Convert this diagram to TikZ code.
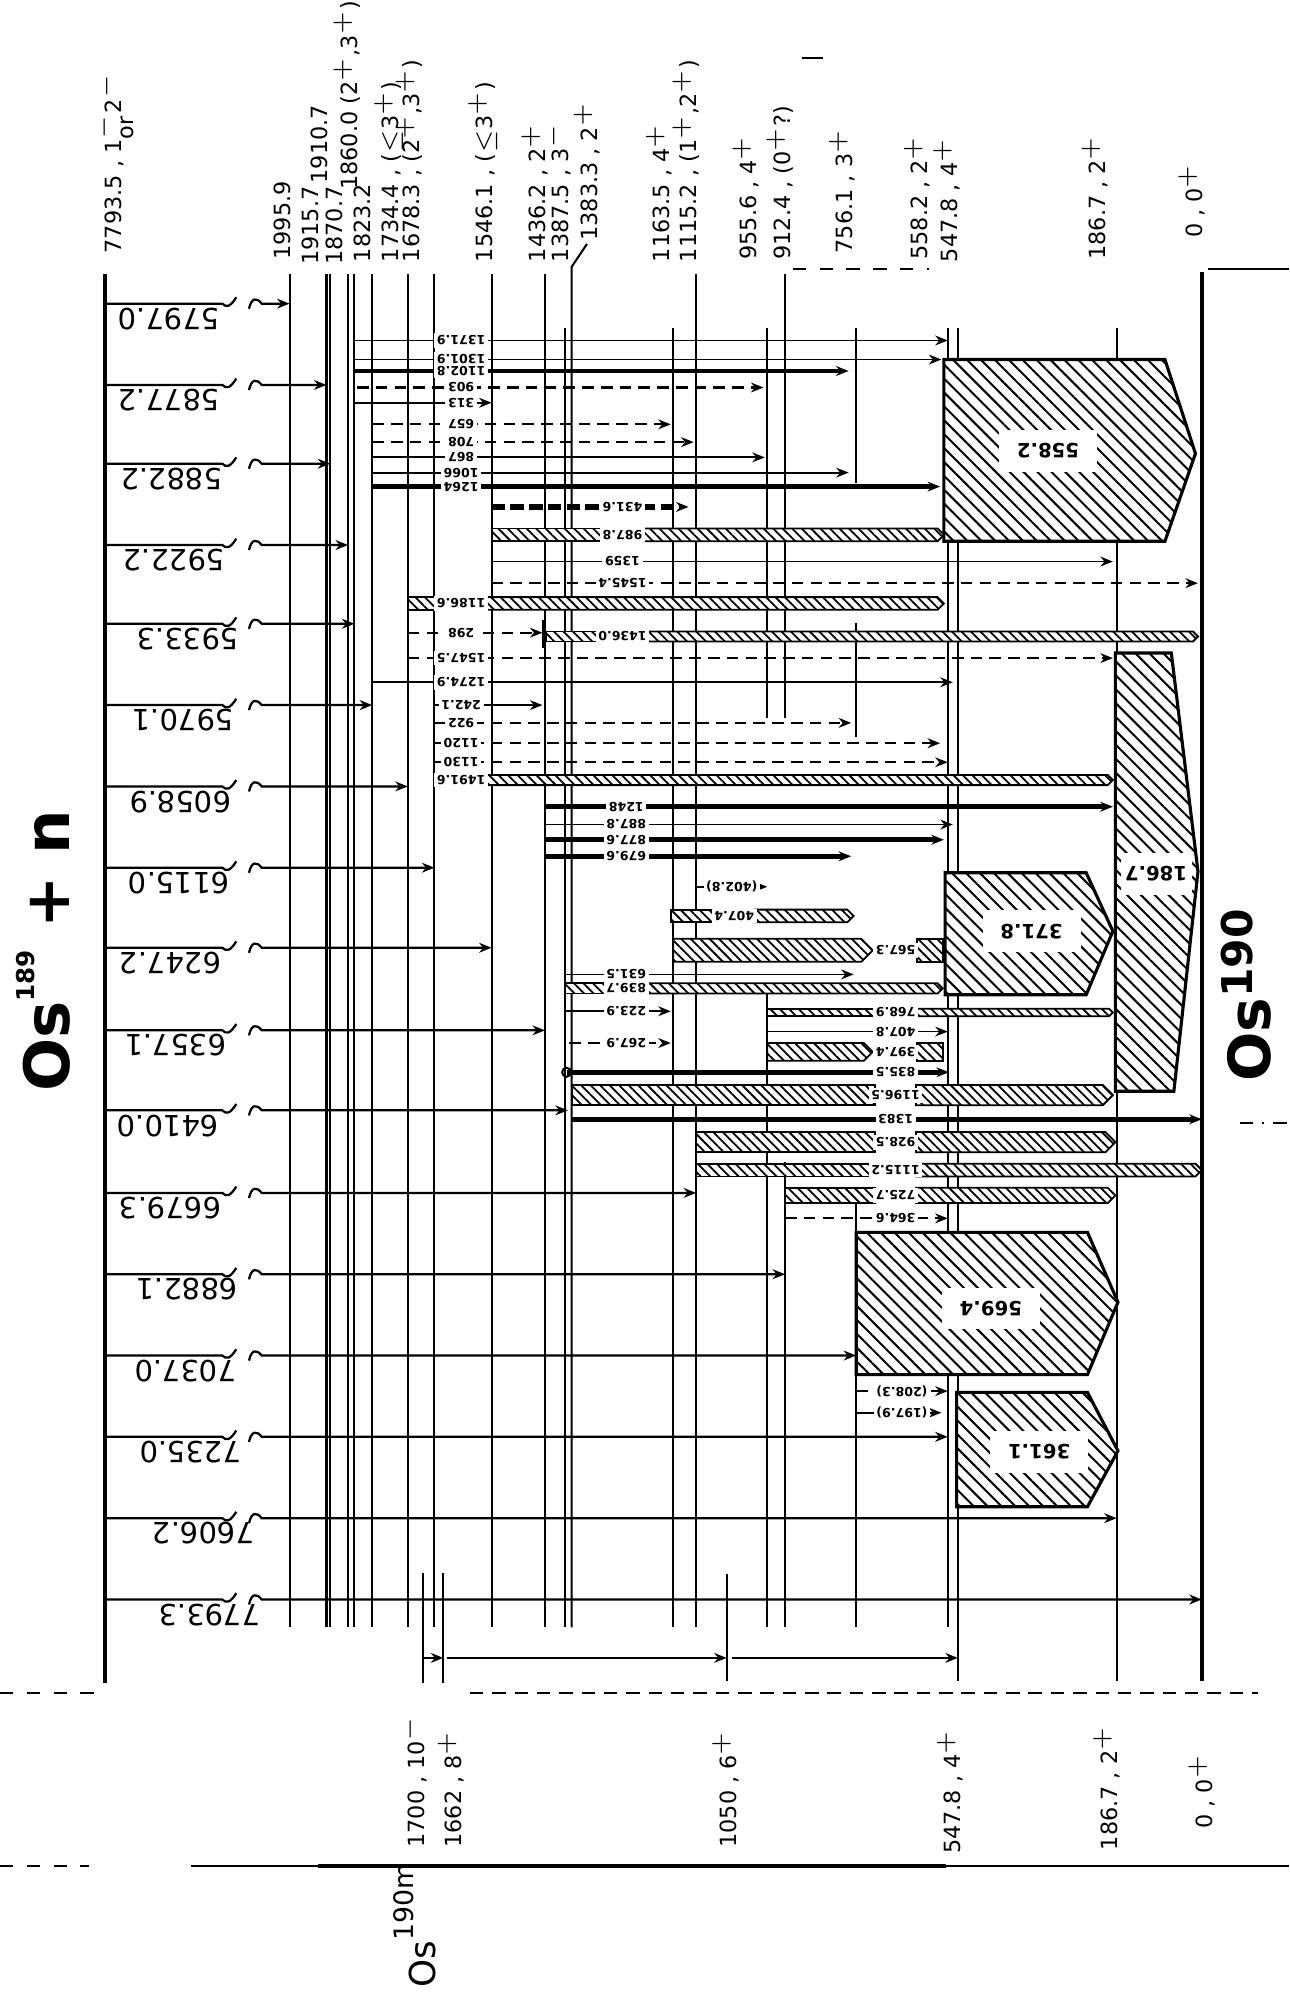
\documentclass[tikz,border=0pt]{standalone}
\usepackage{fontspec}
\setmainfont{DejaVu Sans}
\usetikzlibrary{arrows.meta,patterns.meta}

\tikzset{
  lvl/.style={line width=0.45pt},
  axis/.style={line width=0.9pt},
  capt/.style={line width=0.5pt},
  gtip/.style={-{Stealth[length=2.8pt,width=2.2pt]}},
  gam/.style={line width=0.4pt,gtip},
  gamthick/.style={line width=1.1pt,gtip},
  gamdash/.style={line width=0.45pt,dash pattern=on 2.6pt off 1.6pt,gtip},
  gamheavy/.style={line width=1.3pt,dash pattern=on 3pt off 1.2pt,gtip},
  hatchbar/.style={line width=0.4pt,preaction={fill=white},
    pattern={Lines[angle=-45,distance=1.5pt,line width=0.4pt]}},
  hatchbig/.style={line width=0.7pt,preaction={fill=white},
    pattern={Lines[angle=-45,distance=2.2pt,line width=0.45pt]}},
  glab/.style={rotate=180,fill=white,inner sep=0.6pt,font=\bfseries\fontsize{2.8}{3}\selectfont},
  biglab/.style={rotate=180,fill=white,inner xsep=4pt,inner ysep=3pt,font=\bfseries\fontsize{4.4}{5}\selectfont},
  caplab/.style={rotate=180,inner sep=0pt,font=\fontsize{6.5}{7}\selectfont},
  toplab/.style={rotate=90,anchor=west,inner sep=0pt,font=\fontsize{5}{6}\selectfont},
  isolab/.style={rotate=90,anchor=base west,inner sep=0pt,font=\bfseries\fontsize{13}{14}\selectfont}
}

% hatched gamma bar: y, x1, x2, half height, label, label x, name
\newcommand{\gbar}[7]{%
  \draw[hatchbar] (#2,#1-#4) rectangle (#6-16,#1+#4);
  \draw[hatchbar] (#6+16,#1-#4) -- (#3-#4,#1-#4) -- (#3,#1) -- (#3-#4,#1+#4) -- (#6+16,#1+#4) -- cycle;
  \node[glab] (#7) at (#6,#1) {#5};
}

\begin{document}
\begin{tikzpicture}[x=0.01cm,y=-0.01cm]
  \useasboundingbox (0,0) rectangle (1015,1568);

  % levels of Os190
  \draw[axis] (83,216) -- (83,1325);
  \draw[axis] (946,214) -- (946,1323);
  \foreach \x in {228,257,260,274,279,293,321,342,387,429,548}
    \draw[lvl] (\x,216) -- (\x,1281);
  \foreach \x in {445,530,746}
    \draw[lvl] (\x,258) -- (\x,1281);
  \draw[lvl] (462,192) -- (450,210) -- (450,1281);
  \draw[lvl] (604,258) -- (604,565) (604,780) -- (604,1281);
  \draw[lvl] (618,216) -- (618,565) (618,915) -- (618,1281);
  \draw[lvl] (674,258) -- (674,380) (674,490) -- (674,580) (674,940) -- (674,1281);
  \draw[lvl] (754,258) -- (754,1323);
  \draw[lvl] (879,258) -- (879,1323);
  \foreach \x in {333,349}
    \draw[lvl] (\x,1238) -- (\x,1325);
  \draw[lvl] (572,1239) -- (572,1323);

  % primary gammas from the capture state
  \foreach \y/\xe/\lx/\lab [count=\i] in {239/228/133/5797.0, 303/257/133/5877.2,
      365/260/135/5882.2, 429/274/137/5922.2, 491/279/148/5933.3, 555/293/144/5970.1,
      619/321/142/6058.9, 683/342/141/6115.0, 746/387/134/6247.2, 811/429/138/6357.1,
      874/447/132/6410.0, 939/548/134/6679.3, 1003/618/147/6882.1, 1067/674/146/7037.0,
      1131/746/150/7235.0, 1195/879/160/7606.2, 1259/946/165/7793.3} {
    \draw[capt] (83,\y) -- (175,\y) .. controls (178,\y+3) and (181,\y+3) .. (186,\y-5);
    \draw[capt,gtip] (196,\y+4) .. controls (198,\y-5) and (202,\y-5) .. (206,\y) -- (\xe,\y);
    \node[caplab] (cap\i) at (\lx,\y+12) {\lab};
  }

  % secondary gammas
  \foreach \y/\xa/\xb/\lx/\lab in {268/279/746/363/1371.9, 283/279/741/363/1301.9,
      317/279/387/363/313, 360/293/602/363/867, 372/293/668/363/1066,
      442/387/876/490/1359, 537/293/750/363/1274.9, 555/342/427/363/242.1,
      649/429/750/493/887.8, 767/445/672/493/631.5, 796/445/528/493/223.9,
      812/604/746/705/407.8, 1112/674/741/710/{(197.9)}} {
    \draw[gam] (\xa,\y) -- (\xb,\y);
    \node[glab] (g\y) at (\lx,\y) {\lab};
  }
  \foreach \y/\xa/\xb/\lx/\lab in {292/279/668/363/1102.8, 383/293/740/363/1264,
      635/429/876/493/1248, 661/429/743/493/877.6, 674/429/670/493/679.6,
      844/446/747/705/835.5, 881/450/946/705/1383} {
    \draw[gamthick] (\xa,\y) -- (\xb,\y);
    \node[glab] (g\y) at (\lx,\y) {\lab};
  }
  \foreach \y/\xa/\xb/\lx/\lab in {305/281/601/363/903, 334/293/528/363/657,
      348/293/546/363/708, 459/387/943/490/1545.4, 498/321/427/363/298,
      518/321/876/363/1547.5, 569/342/670/363/922, 585/342/740/363/1120,
      600/342/746/363/1130, 698/548/604/576/{(402.8)}, 821/448/528/493/267.9,
      959/618/746/705/364.6, 1095/674/746/710/{(208.3)}} {
    \draw[gamdash] (\xa,\y) -- (\xb,\y);
    \node[glab] (g\y) at (\lx,\y) {\lab};
  }
  \draw[gamheavy] (387,399) -- (542,399);
  \node[glab] (g399) at (490,399) {431.6};
  \draw[line width=1pt] (428,488) -- (428,510);
  \draw[lvl] (446,844) circle[radius=1pt];

  % hatched bars
  \gbar{421}{387}{743}{5}{987.8}{490}{b421}
  \gbar{475}{321}{743}{5}{1186.6}{363}{b475}
  \gbar{501}{430}{943}{4}{1436.0}{490}{b501}
  \gbar{614}{342}{876}{4}{1491.6}{363}{b614}
  \gbar{721}{528}{672}{5}{407.4}{578}{b721}
  \gbar{778}{445}{742}{4}{839.7}{493}{b778}
  \gbar{797}{604}{876}{3}{768.9}{705}{b797}
  \gbar{862}{450}{876}{8}{1196.5}{705}{b862}
  \gbar{899}{548}{878}{8}{928.5}{705}{b899}
  \gbar{921}{548}{946}{5}{1115.2}{705}{b921}
  \gbar{941}{618}{878}{6}{725.7}{705}{b941}
  \draw[hatchbar] (530,739) -- (678,739) -- (687,748) -- (678,757) -- (530,757) -- cycle;
  \draw[hatchbar] (722,739) rectangle (742,757);
  \node[glab] (b748) at (705,748) {567.3};
  \draw[hatchbar] (604,821) -- (680,821) -- (687,828) -- (680,835) -- (604,835) -- cycle;
  \draw[hatchbar] (722,821) rectangle (742,835);
  \node[glab] (b828) at (705,828) {397.4};

  % strong transitions
  \draw[hatchbig] (743,283) -- (917,283) -- (941,357) -- (917,426) -- (743,426) -- cycle;
  \node[biglab] (s558) at (825,355) {558.2};
  \draw[hatchbig] (878,514) -- (922,514) -- (943,686) -- (924,859) -- (878,859) -- cycle;
  \node[biglab,inner xsep=1pt] (s186) at (910,688) {186.7};
  \draw[hatchbig] (744,687) -- (855,687) -- (876,733) -- (855,783) -- (744,783) -- cycle;
  \node[biglab] (s371) at (812,733) {371.8};
  \draw[hatchbig] (674,970) -- (856,970) -- (880,1025) -- (856,1082) -- (674,1082) -- cycle;
  \node[biglab] (s569) at (780,1030) {569.4};
  \draw[hatchbig] (753,1096) -- (856,1096) -- (880,1142) -- (856,1186) -- (753,1186) -- cycle;
  \node[biglab] (s361) at (818,1143) {361.1};

  % isomer cascade
  \draw[gam] (333,1305) -- (349,1305);
  \draw[gam] (352,1305) -- (572,1305);
  \draw[gam] (576,1305) -- (754,1305);

  % level labels
  \node[toplab] (t7793) at (90,200) {7793.5 , 1$^-_{\mathrm{or}}$2$^-$};
  \node[toplab] (t1995) at (222,205) {1995.9};
  \node[toplab] (t1915) at (244,209) {1915.7};
  \node[toplab] (t1910) at (251,145) {1910.7};
  \node[toplab] (t1870) at (263,209) {1870.7};
  \node[toplab] (t1860) at (273,150) {1860.0 (2$^+$,3$^+$)};
  \node[toplab] (t1823) at (285,207) {1823.2};
  \node[toplab] (t1734) at (306,207) {1734.4 , ($\leq$3$^+$)};
  \node[toplab] (t1678) at (322,207) {1678.3 , (2$^+$,3$^+$)};
  \node[toplab] (t1546) at (380,207) {1546.1 , ($\leq$3$^+$)};
  \node[toplab] (t1436) at (421,207) {1436.2 , 2$^+$};
  \node[toplab] (t1387) at (439,207) {1387.5 , 3$^-$};
  \node[toplab] (t1383) at (462,190) {1383.3 , 2$^+$};
  \node[toplab] (t1163) at (519,207) {1163.5 , 4$^+$};
  \node[toplab] (t1115) at (540,207) {1115.2 , (1$^+$,2$^+$)};
  \node[toplab] (t955) at (587,205) {955.6 , 4$^+$};
  \node[toplab] (t912) at (614,205) {912.4 , (0$^+$?)};
  \node[toplab] (t756) at (663,200) {756.1 , 3$^+$};
  \node[toplab] (t558) at (722,205) {558.2 , 2$^+$};
  \node[toplab] (t547) at (745,207) {547.8 , 4$^+$};
  \node[toplab] (t186) at (862,205) {186.7 , 2$^+$};
  \node[toplab] (t0) at (938,188) {0 , 0$^+$};

  \node[toplab] (b1700) at (326,1455) {1700 , 10$^-$};
  \node[toplab] (b1662) at (355,1455) {1662 , 8$^+$};
  \node[toplab] (b1050) at (571,1455) {1050 , 6$^+$};
  \node[toplab] (b547) at (748,1460) {547.8 , 4$^+$};
  \node[toplab] (b186) at (871,1457) {186.7 , 2$^+$};
  \node[toplab] (b0) at (946,1440) {0 , 0$^+$};

  \node[isolab,font=\bfseries\fontsize{14}{15}\selectfont] (os189) at (55,860)
    {Os\raisebox{8pt}{\fontsize{5.5}{6}\selectfont 189} + n};
  \node[isolab] (os190) at (1000,852) {Os\raisebox{4pt}{\fontsize{9.5}{10}\selectfont 190}};
  \node[isolab,font=\fontsize{8}{9}\selectfont] (os190m) at (343,1565)
    {Os\raisebox{5pt}{\fontsize{6}{7}\selectfont 190m}};

  % frame marks
  \draw[lvl,dashed] (624,212) -- (731,212);
  \draw[lvl] (951,212) -- (1015,212);
  \draw[lvl] (631,46) -- (648,46);
  \draw[lvl,dashed] (0,1333) -- (75,1333);
  \draw[lvl,densely dashed] (370,1333) -- (990,1333);
  \draw[lvl,dashed] (0,1469) -- (70,1469);
  \draw[line width=0.5pt] (150,1469) -- (1015,1469);
  \draw[line width=0.9pt] (250,1469) -- (745,1469);
  \draw[lvl,dash dot] (976,884) -- (1015,884);
\end{tikzpicture}
\end{document}
